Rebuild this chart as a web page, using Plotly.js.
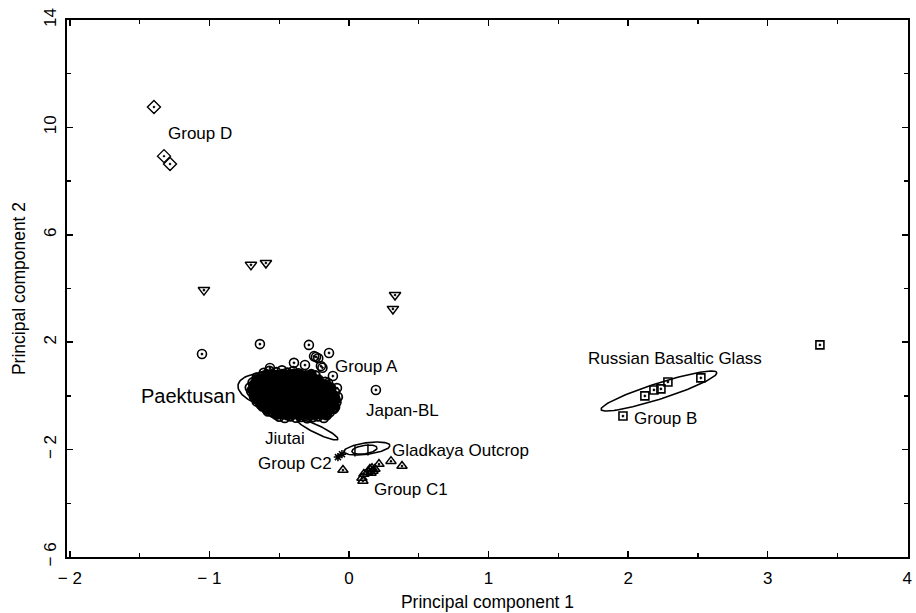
<!DOCTYPE html>
<html>
<head>
<meta charset="utf-8">
<script src="https://cdn.plot.ly/plotly-3.0.1.min.js"></script>
<style>html,body{margin:0;padding:0;background:#fff;}#chart{width:916px;height:613px;}</style>
</head>
<body>
<div id="chart"></div>
<script>
// ---- Data ----
var groupDX = [-1.397, -1.325, -1.282];
var groupDY = [10.76, 8.93, 8.64];

var triDownX = [-1.039, -0.702, -0.595, 0.330, 0.315];
var triDownY = [3.94, 4.88, 4.95, 3.76, 3.24];

// Group A / Japan-BL scattered circles
var groupAX = [-1.053, -0.638, -0.287, -0.143, -0.394, -0.315, -0.236, -0.220, -0.250, -0.201, -0.190, -0.115, -0.150, -0.086, 0.193, -0.566];
var groupAY = [1.56, 1.93, 1.90, 1.60, 1.23, 1.15, 1.45, 1.40, 1.48, 1.11, 1.05, 0.74, 0.48, 0.29, 0.22, 1.04];

// Paektusan cluster circles (outer rows)
var paekX = [
 -0.61,-0.57,-0.52,-0.48,-0.44,-0.40,-0.36,
 -0.66,-0.62,-0.59,-0.55,-0.51,-0.47,-0.43,-0.39,-0.35,-0.31,-0.27,-0.24,
 -0.69,-0.65,-0.62,-0.58,-0.54,-0.50,-0.47,-0.43,-0.39,-0.35,-0.32,-0.28,-0.24,-0.21,-0.17,
 -0.71,-0.67,-0.63,-0.60,-0.56,-0.52,-0.49,-0.45,-0.41,-0.37,-0.34,-0.30,-0.26,-0.22,-0.18,-0.13,
 -0.70,-0.66,-0.63,-0.59,-0.55,-0.51,-0.48,-0.44,-0.40,-0.36,-0.33,-0.29,-0.25,-0.21,-0.17,-0.13,-0.10,
 -0.68,-0.64,-0.60,-0.57,-0.53,-0.49,-0.45,-0.42,-0.38,-0.34,-0.30,-0.27,-0.23,-0.19,-0.15,-0.11,-0.08,
 -0.66,-0.62,-0.58,-0.54,-0.51,-0.47,-0.43,-0.39,-0.36,-0.32,-0.28,-0.24,-0.20,-0.16,-0.12,-0.09,
 -0.62,-0.58,-0.55,-0.51,-0.47,-0.43,-0.40,-0.36,-0.32,-0.28,-0.25,-0.21,-0.17,-0.13,-0.10,
 -0.58,-0.54,-0.50,-0.46,-0.42,-0.38,-0.34,-0.30,-0.26,-0.22,-0.18,-0.14,
 -0.50,-0.46,-0.42,-0.38,-0.34,-0.30,-0.26,-0.22,-0.18,
 -0.55,-0.30,-0.19
];
var paekY = [
 0.86,0.93,0.88,0.95,0.87,0.92,0.84,
 0.68,0.74,0.66,0.72,0.69,0.75,0.67,0.71,0.73,0.66,0.70,0.76,
 0.50,0.55,0.48,0.53,0.57,0.49,0.54,0.51,0.56,0.47,0.53,0.50,0.55,0.48,0.52,
 0.31,0.36,0.30,0.35,0.32,0.37,0.29,0.34,0.31,0.36,0.30,0.33,0.37,0.29,0.34,0.31,
 0.17,0.12,0.18,0.13,0.16,0.11,0.19,0.14,0.17,0.12,0.15,0.18,0.11,0.16,0.13,0.17,0.14,
 -0.02,-0.07,-0.01,-0.06,-0.03,-0.08,0.00,-0.05,-0.02,-0.07,-0.01,-0.04,-0.08,-0.03,-0.06,0.01,-0.04,
 -0.21,-0.26,-0.19,-0.24,-0.20,-0.27,-0.22,-0.18,-0.25,-0.21,-0.26,-0.19,-0.23,-0.27,-0.20,-0.24,
 -0.39,-0.44,-0.38,-0.43,-0.40,-0.45,-0.37,-0.42,-0.39,-0.44,-0.38,-0.41,-0.45,-0.39,-0.42,
 -0.58,-0.63,-0.57,-0.62,-0.59,-0.64,-0.56,-0.61,-0.58,-0.63,-0.57,-0.62,
 -0.77,-0.82,-0.76,-0.81,-0.78,-0.83,-0.79,-0.76,-0.82,
 -0.60,-0.82,-0.67
];
// Paektusan cluster circles (interior, between rows)
var paekInX = [
 -0.59,-0.55,-0.51,-0.47,-0.43,-0.39,-0.35,-0.31,-0.27,
 -0.66,-0.62,-0.58,-0.54,-0.50,-0.46,-0.42,-0.38,-0.34,-0.30,-0.26,-0.22,
 -0.68,-0.64,-0.60,-0.56,-0.52,-0.48,-0.44,-0.40,-0.36,-0.32,-0.28,-0.24,-0.20,-0.16,
 -0.69,-0.65,-0.61,-0.57,-0.53,-0.49,-0.45,-0.41,-0.37,-0.33,-0.29,-0.25,-0.21,-0.17,-0.13,
 -0.68,-0.64,-0.60,-0.56,-0.52,-0.48,-0.44,-0.40,-0.36,-0.32,-0.28,-0.24,-0.20,-0.16,-0.12,
 -0.66,-0.62,-0.58,-0.54,-0.50,-0.46,-0.42,-0.38,-0.34,-0.30,-0.26,-0.22,-0.18,-0.14,-0.10,
 -0.63,-0.59,-0.55,-0.51,-0.47,-0.43,-0.39,-0.35,-0.31,-0.27,-0.23,-0.19,-0.15,-0.11,
 -0.59,-0.55,-0.51,-0.47,-0.43,-0.39,-0.35,-0.31,-0.27,-0.23,-0.19,-0.15,-0.11,
 -0.52,-0.48,-0.44,-0.40,-0.36,-0.32,-0.28,-0.24,-0.20,-0.16
];
var paekInY = [
 0.79,0.81,0.77,0.80,0.78,0.82,0.79,0.76,0.80,
 0.61,0.63,0.59,0.62,0.60,0.64,0.58,0.61,0.63,0.59,0.62,0.60,
 0.42,0.44,0.40,0.43,0.41,0.45,0.39,0.42,0.44,0.40,0.43,0.41,0.44,0.40,
 0.24,0.26,0.22,0.25,0.23,0.27,0.21,0.24,0.26,0.22,0.25,0.23,0.26,0.22,0.24,
 0.05,0.07,0.03,0.06,0.04,0.08,0.02,0.05,0.07,0.03,0.06,0.04,0.07,0.03,0.05,
 -0.13,-0.11,-0.15,-0.12,-0.14,-0.10,-0.16,-0.13,-0.11,-0.15,-0.12,-0.14,-0.11,-0.15,-0.13,
 -0.32,-0.30,-0.34,-0.31,-0.33,-0.29,-0.35,-0.32,-0.30,-0.34,-0.31,-0.33,-0.30,-0.34,
 -0.50,-0.48,-0.52,-0.49,-0.51,-0.47,-0.53,-0.50,-0.48,-0.52,-0.49,-0.51,-0.48,
 -0.69,-0.67,-0.71,-0.68,-0.70,-0.66,-0.72,-0.69,-0.67,-0.71
];

var groupBX = [1.963, 2.120, 2.185, 2.235, 2.285, 2.521, 3.374];
var groupBY = [-0.75, 0.00, 0.22, 0.26, 0.52, 0.67, 1.90];

var groupC1X = [-0.043, 0.093, 0.100, 0.107, 0.136, 0.150, 0.165, 0.172, 0.186, 0.158, 0.215, 0.301, 0.380];
var groupC1Y = [-2.76, -3.06, -3.17, -2.91, -2.83, -2.72, -2.69, -2.80, -2.72, -2.87, -2.54, -2.43, -2.61];

var groupC2X = [-0.079, -0.050];
var groupC2Y = [-2.28, -2.17];

var gladX = [0.043, 0.136];
var gladY = [-2.05, -2.01];

// Confidence ellipses: centre, half-extent in x and y, phase (tilt)
var ellName = ['Paektusan', 'Jiutai', 'Gladkaya outer', 'Gladkaya inner', 'Russian Basaltic Glass'];
var ellCX = [-0.43, -0.226, 0.129, 0.111, 2.221];
var ellCY = [0.11, -1.25, -1.96, -2.00, 0.18];
var ellRX = [0.365, 0.147, 0.165, 0.090, 0.415];
var ellRY = [0.78, 0.39, 0.242, 0.17, 0.745];
var ellPhase = [1.9, 2.7, 1.1, 1.2, 0.43];

// Labels
var labelText = ['Group D', 'Group A', 'Paektusan', 'Japan-BL', 'Jiutai', 'Gladkaya Outcrop', 'Group C2', 'Group C1', 'Russian Basaltic Glass', 'Group B'];
var labelX = [-1.31, -0.115, -0.795, 0.108, -0.616, 0.294, -0.108, 0.165, 1.698, 2.027];
var labelY = [9.79, 1.11, 0.0, -0.56, -1.57, -2.05, -2.50, -3.47, 1.41, -0.86];
var labelAnchor = ['left', 'left', 'right', 'left', 'left', 'left', 'right', 'left', 'left', 'left'];
var labelSize = [17, 17, 20, 17, 17, 17, 17, 17, 17, 17];

var xTickVals = [-2, -1, 0, 1, 2, 3, 4];
var xTickText = ['\u2212 2', '\u2212 1', '0', '1', '2', '3', '4'];
var yTickVals = [-6, -2, 2, 6, 10, 14];
var yTickText = ['\u2212 6', '\u2212 2', '2', '6', '10', '14'];

// ---- Build traces ----
var FONT = 'Liberation Sans, Arial, Helvetica, sans-serif';
function pts(x, y, sym, size, lw) {
  return {
    type: 'scatter', mode: 'markers', x: x, y: y, hoverinfo: 'skip',
    marker: { symbol: sym, size: size, color: '#000', line: { color: '#000', width: lw || 1.5 } }
  };
}
var traces = [];
for (var i = 0; i < ellName.length; i++) {
  var ex = [], ey = [];
  for (var k = 0; k <= 120; k++) {
    var t = 2 * Math.PI * k / 120;
    ex.push(ellCX[i] + ellRX[i] * Math.cos(t));
    ey.push(ellCY[i] + ellRY[i] * Math.cos(t - ellPhase[i]));
  }
  traces.push({ type: 'scatter', mode: 'lines', x: ex, y: ey, hoverinfo: 'skip',
    line: { color: '#000', width: 1.6 } });
}
traces.push(pts(groupDX, groupDY, 'diamond-open-dot', 10, 1.4));
traces.push(pts(triDownX, triDownY, 'triangle-down-open-dot', 10, 1.5));
traces.push(pts(paekX, paekY, 'circle-open-dot', 9, 1.8));
traces.push(pts(paekInX, paekInY, 'circle-open-dot', 8, 3.2));
traces.push(pts(groupAX, groupAY, 'circle-open-dot', 9, 1.6));
traces.push(pts(groupBX, groupBY, 'square-open-dot', 8, 1.6));
traces.push(pts(groupC1X, groupC1Y, 'triangle-up-open-dot', 9, 1.5));
traces.push(pts(groupC2X, groupC2Y, 'asterisk-open', 7, 1.5));
traces.push(pts(gladX, gladY, 'line-ns-open', 8, 1.5));

var annotations = labelText.map(function (txt, i) {
  return { x: labelX[i], y: labelY[i], xref: 'x', yref: 'y', text: txt, showarrow: false,
    xanchor: labelAnchor[i], yanchor: 'middle', font: { family: FONT, size: labelSize[i], color: '#000' } };
});

var axisCommon = {
  showgrid: false, zeroline: false, showline: true, linecolor: '#000', linewidth: 2,
  mirror: 'ticks', ticks: 'inside', ticklen: 6, tickwidth: 1.5, tickcolor: '#000',
  tickfont: { family: FONT, size: 17, color: '#000' }, tickmode: 'array'
};
var layout = {
  width: 916, height: 613,
  margin: { l: 67, r: 8, t: 20, b: 56 },
  paper_bgcolor: '#fff', plot_bgcolor: '#fff', showlegend: false,
  font: { family: FONT, color: '#000' },
  xaxis: Object.assign({}, axisCommon, {
    range: [-2.02, 4.005], tickvals: xTickVals, ticktext: xTickText, ticklabelstandoff: 5,
    minor: { dtick: 0.5, tick0: 0, ticks: 'inside', ticklen: 4, tickwidth: 1.3, tickcolor: '#000', showgrid: false },
    title: { text: 'Principal component 1', font: { family: FONT, size: 17.5 }, standoff: 8 }
  }),
  yaxis: Object.assign({}, axisCommon, {
    range: [-6, 14], tickvals: yTickVals, ticktext: yTickText, tickangle: -90, ticklabelstandoff: 2,
    minor: { dtick: 2, tick0: 0, ticks: 'inside', ticklen: 4, tickwidth: 1.3, tickcolor: '#000', showgrid: false },
    title: { text: 'Principal component 2', font: { family: FONT, size: 17.5 }, standoff: 11 }
  }),
  annotations: annotations
};
Plotly.newPlot('chart', traces, layout, { displayModeBar: false, staticPlot: true });
</script>
</body>
</html>
